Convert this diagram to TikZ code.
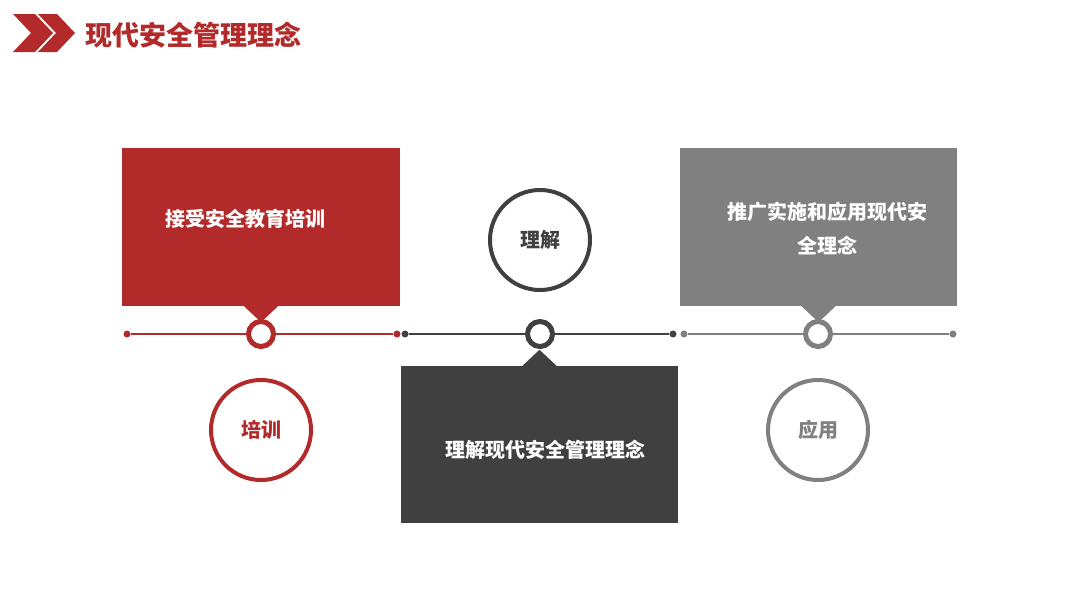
\documentclass[tikz,border=0pt]{standalone}
\usepackage{fontspec}
\newfontfamily\cjk{Noto Sans CJK SC}
\definecolor{cred}{HTML}{B32A2B}
\definecolor{cdark}{HTML}{404040}
\definecolor{cgray}{HTML}{808080}
\tikzset{
  panel/.style={rectangle, draw=none, inner sep=0pt},
  bigring/.style={circle, draw, line width=4pt, minimum size=100pt, inner sep=0pt, fill=white, font=\cjk\bfseries\fontsize{20}{22}\selectfont},
  knot/.style={circle, draw, line width=5pt, minimum size=25pt, inner sep=0pt, fill=white},
  dot/.style={circle, fill, inner sep=0pt, minimum size=7pt},
  seg/.style={line width=1.8pt},
  wtext/.style={text=white, font=\cjk\bfseries\fontsize{20}{34}\selectfont, inner sep=0pt},
}
\begin{document}
\begin{tikzpicture}[x=1pt,y=-1pt]
\useasboundingbox[fill=white] (0,0) rectangle (1080,608);
% header
\fill[cred] (13,14) -- (35,14) -- (53,33) -- (35,52) -- (13,52) -- (31,33) -- cycle;
\fill[cred] (38,14) -- (57,14) -- (75,33) -- (57,52) -- (38,52) -- (56,33) -- cycle;
\node[anchor=west, inner sep=0pt, text=cred, font=\cjk\bfseries\fontsize{27}{30}\selectfont] (title) at (85,35) {现代安全管理理念};

% panels
\node[panel, fill=cred, minimum width=278pt, minimum height=158pt] (b1) at (261,227) {};
\fill[cred] ([xshift=-17pt]b1.south) -- ([xshift=17pt]b1.south) -- ([yshift=-16pt]b1.south) -- cycle;
\node[wtext, anchor=west] (t1) at (165,219) {接受安全教育培训};

\node[panel, fill=cdark, minimum width=277pt, minimum height=157pt] (b2) at (539.5,444.5) {};
\fill[cdark] ([xshift=-17pt]b2.north) -- ([xshift=17pt]b2.north) -- ([yshift=16pt]b2.north) -- cycle;
\node[wtext] (t2) at (545,450) {理解现代安全管理理念};

\node[panel, fill=cgray, minimum width=277pt, minimum height=158pt] (b3) at (818.5,227) {};
\fill[cgray] ([xshift=-17pt]b3.south) -- ([xshift=17pt]b3.south) -- ([yshift=-16pt]b3.south) -- cycle;
\node[wtext, align=center] (t3) at (827,229) {推广实施和应用现代安\\全理念};

% timeline
\node[dot, fill=cred] (r0) at (127,334) {};
\node[dot, fill=cred] (r1) at (397,334) {};
\node[dot, fill=cdark] (d0) at (405,334) {};
\node[dot, fill=cdark] (d1) at (673,334) {};
\node[dot, fill=cgray] (g0) at (684,334) {};
\node[dot, fill=cgray] (g1) at (953,334) {};
\node[knot, draw=cred] (k1) at (261,334) {};
\node[knot, draw=cdark] (k2) at (540,334) {};
\node[knot, draw=cgray] (k3) at (818,334) {};
\draw[seg, cred] (r0) -- (k1) -- (r1);
\draw[seg, cdark] (d0) -- (k2) -- (d1);
\draw[seg, cgray] (g0) -- (k3) -- (g1);

% rings
\node[bigring, draw=cred, text=cred] (c1) at (261,430) {培训};
\node[bigring, draw=cdark, text=cdark] (c2) at (540,240) {理解};
\node[bigring, draw=cgray, text=cgray] (c3) at (818,430) {应用};
\end{tikzpicture}
\end{document}
